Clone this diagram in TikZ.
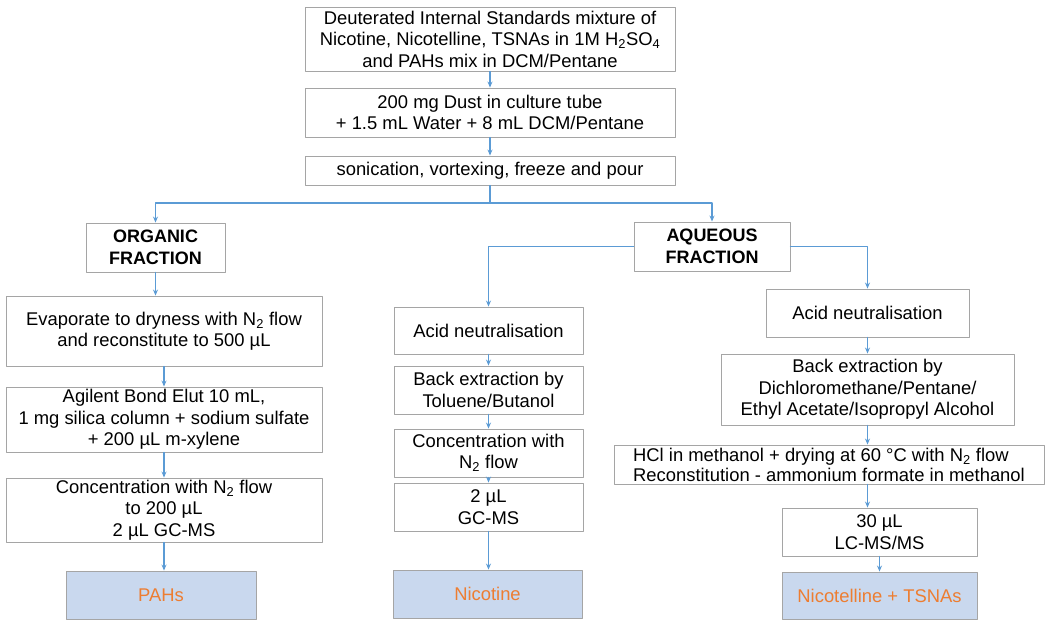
\documentclass[tikz,border=0pt]{standalone}
\usepackage{fontspec}
\setmainfont{Liberation Sans}
\usetikzlibrary{arrows.meta}

\definecolor{boxgray}{RGB}{165,165,165}
\definecolor{flowblue}{RGB}{91,155,213}
\definecolor{resultfill}{RGB}{201,216,238}
\definecolor{resultorange}{RGB}{237,125,49}

\begin{document}
\begin{tikzpicture}[x=1pt,y=-1pt,line cap=round,line join=round,
  stepbox/.style={draw=boxgray,fill=white,line width=0.9pt,align=center,inner sep=0pt,
    font=\fontsize{18.4}{21.5}\selectfont},
  fracbox/.style={stepbox,font=\fontsize{18}{22}\selectfont\bfseries},
  resbox/.style={stepbox,fill=resultfill,text=resultorange},
  link/.style={draw=flowblue,line width=1.1pt},
  flow/.style={link,-{Stealth[length=6pt,width=5pt]}}]

\useasboundingbox (0,0) rectangle (1050,627);

% sample preparation
\node[stepbox,minimum width=370,minimum height=64] (std) at (490,39)
  {Deuterated Internal Standards mixture of\\Nicotine, Nicotelline, TSNAs in 1M H\textsubscript{2}SO\textsubscript{4}\\and PAHs mix in DCM/Pentane};
\node[stepbox,minimum width=370,minimum height=49] (dust) at (490,112.5)
  {200 mg Dust in culture tube\\+ 1.5 mL Water + 8 mL DCM/Pentane};
\node[stepbox,minimum width=370,minimum height=29] (soni) at (490,170.5)
  {sonication, vortexing, freeze and pour};

% the two fractions
\node[fracbox,minimum width=139,minimum height=49] (org) at (155.5,247.5) {ORGANIC\\FRACTION};
\node[fracbox,minimum width=156,minimum height=49] (aq) at (712,246.5) {AQUEOUS\\FRACTION};

% organic fraction -> PAHs
\node[stepbox,minimum width=316,minimum height=70] (evap) at (164,331)
  {Evaporate to dryness with N\textsubscript{2} flow\\and reconstitute to 500 µL};
\node[stepbox,minimum width=316,minimum height=65] (bond) at (164,419.5)
  {Agilent Bond Elut 10 mL,\\1 mg silica column + sodium sulfate\\+ 200 µL m-xylene};
\node[stepbox,minimum width=316,minimum height=64] (concp) at (164,510)
  {Concentration with N\textsubscript{2} flow\\to 200 µL\\2 µL GC-MS};
\node[resbox,minimum width=190,minimum height=48] (pahs) at (161,595) {PAHs};

% aqueous fraction -> nicotine
\node[stepbox,minimum width=189,minimum height=47] (acidm) at (488.5,330.5) {Acid neutralisation};
\node[stepbox,minimum width=189,minimum height=48] (backm) at (488.5,390) {Back extraction by\\Toluene/Butanol};
\node[stepbox,minimum width=189,minimum height=48] (concm) at (488.5,453) {Concentration with\\N\textsubscript{2} flow};
\node[stepbox,minimum width=189,minimum height=48] (gcm) at (488.5,507) {2 µL\\GC-MS};
\node[resbox,minimum width=189,minimum height=48] (nic) at (487.5,594) {Nicotine};

% aqueous fraction -> nicotelline + TSNAs
\node[stepbox,minimum width=203,minimum height=48] (acidr) at (867.5,313) {Acid neutralisation};
\node[stepbox,minimum width=293,minimum height=71] (backr) at (867.5,389.5)
  {Back extraction by\\Dichloromethane/Pentane/\\Ethyl Acetate/Isopropyl Alcohol};
\node[stepbox,align=left,minimum width=430,minimum height=39,font=\fontsize{18.4}{20}\selectfont] (hcl) at (829,464.5)
  {HCl in methanol + drying at 60 °C with N\textsubscript{2} flow\\Reconstitution - ammonium formate in methanol};
\node[stepbox,minimum width=195,minimum height=48] (lc) at (879.5,532) {30 µL\\LC-MS/MS};
\node[resbox,minimum width=195,minimum height=47] (tsna) at (879.5,595.5) {Nicotelline + TSNAs};

% connectors
\coordinate (split) at (490,203);
\draw[flow] (std.south) -- (dust.north);
\draw[flow] (dust.south) -- (soni.north);
\draw[link] (soni.south) -- (split);
\draw[flow] (split) -| (org.north);
\draw[flow] (split) -| (aq.north);

\draw[flow] (org.south) -- (org.south |- evap.north);
\draw[flow] (evap.south) -- (bond.north);
\draw[flow] (bond.south) -- (concp.north);
\draw[flow] (concp.south) -- (concp.south |- pahs.north);

\draw[flow] (aq.west) -| (acidm.north);
\draw[flow] (acidm.south) -- (backm.north);
\draw[flow] (backm.south) -- (concm.north);
\draw[flow] (concm.south) -- (gcm.north);
\draw[flow] (gcm.south) -- (gcm.south |- nic.north);

\draw[flow] (aq.east) -| (acidr.north);
\draw[flow] (acidr.south) -- (backr.north);
\draw[flow] (backr.south) -- (backr.south |- hcl.north);
\draw[flow] (backr.south |- hcl.south) -- (backr.south |- lc.north);
\draw[flow] (lc.south) -- (tsna.north);

\end{tikzpicture}
\end{document}
